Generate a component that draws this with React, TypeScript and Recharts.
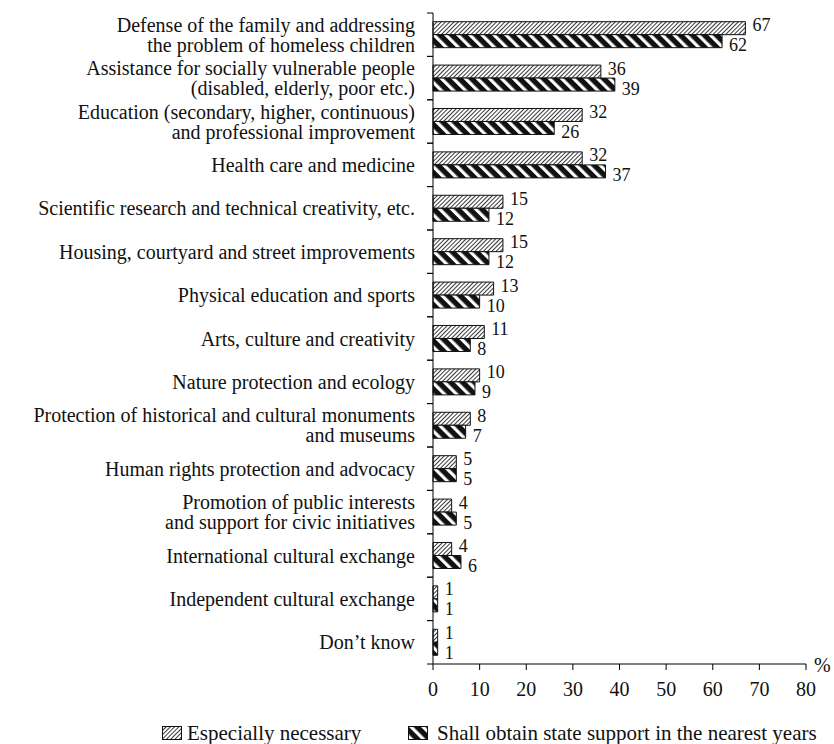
import React from 'react';
import { BarChart, Bar, XAxis, YAxis, LabelList, Label } from 'recharts';

const categories: string[] = [
  'Defense of the family and addressing\nthe problem of homeless children',
  'Assistance for socially vulnerable people\n(disabled, elderly, poor etc.)',
  'Education (secondary, higher, continuous)\nand professional improvement',
  'Health care and medicine',
  'Scientific research and technical creativity, etc.',
  'Housing, courtyard and street improvements',
  'Physical education and sports',
  'Arts, culture and creativity',
  'Nature protection and ecology',
  'Protection of historical and cultural monuments\nand museums',
  'Human rights protection and advocacy',
  'Promotion of public interests\nand support for civic initiatives',
  'International cultural exchange',
  'Independent cultural exchange',
  'Don\u2019t know',
];

const especiallyNecessary: number[] = [67, 36, 32, 32, 15, 15, 13, 11, 10, 8, 5, 4, 4, 1, 1];
const stateSupport: number[] = [62, 39, 26, 37, 12, 12, 10, 8, 9, 7, 5, 5, 6, 1, 1];
const xTicks: number[] = [0, 10, 20, 30, 40, 50, 60, 70, 80];
const legendLabels: string[] = ['Especially necessary', 'Shall obtain state support in the nearest years'];

const data = categories.map((c, i) => ({
  name: c,
  a: especiallyNecessary[i],
  b: stateSupport[i],
}));

const W = 834;
const H = 744;
const MARGIN = { top: 13, right: 28, bottom: 50, left: 0 };
const X_AXIS_H = 30;
const Y_AXIS_W = 433;
const PLOT_H = H - MARGIN.top - MARGIN.bottom - X_AXIS_H;
const BAND = PLOT_H / categories.length;
const FONT = '"Liberation Serif", "Times New Roman", serif';

const YTick = (props: any) => {
  const { x, y, payload } = props;
  const lines = String(payload.value).split('\n');
  const lh = 20;
  const start = y - ((lines.length - 1) * lh) / 2;
  const axisX = x + 18;
  return (
    <g>
      <line x1={axisX - 6} x2={axisX} y1={y - BAND / 2} y2={y - BAND / 2} stroke="#000" strokeWidth={1} />
      <line x1={axisX - 6} x2={axisX} y1={y + BAND / 2} y2={y + BAND / 2} stroke="#000" strokeWidth={1} />
      <text x={x} y={start} textAnchor="end" fontFamily={FONT} fontSize={20} fill="#111">
        {lines.map((l, i) => (
          <tspan key={i} x={x} y={start + i * lh} dominantBaseline="central">
            {l}
          </tspan>
        ))}
      </text>
    </g>
  );
};

const makeValueLabel = (dy: number) => (props: any) => {
  const { x, y, width, height, value } = props;
  return (
    <text
      x={x + width + 7}
      y={y + height / 2 + dy}
      dominantBaseline="central"
      fontFamily={FONT}
      fontSize={18}
      fill="#111"
    >
      {value}
    </text>
  );
};

const PercentLabel = (props: any) => {
  const { viewBox } = props;
  return (
    <text x={viewBox.x + viewBox.width + 8} y={viewBox.y + 1} fontFamily={FONT} fontSize={20} fill="#111" dominantBaseline="central">
      %
    </text>
  );
};

export default function App() {
  return (
    <div style={{ position: 'absolute', left: 0, top: 0, width: W, height: H, background: '#fff' }}>
      <BarChart
        width={W}
        height={H}
        data={data}
        layout="vertical"
        margin={MARGIN}
        barCategoryGap="20%"
        barGap={0}
      >
        <defs>
          <pattern id="hatchLight" patternUnits="userSpaceOnUse" width="3" height="3" patternTransform="rotate(45)">
            <rect width="3" height="3" fill="#fff" />
            <line x1="0.5" y1="0" x2="0.5" y2="3" stroke="#222" strokeWidth="0.9" />
          </pattern>
          <pattern id="hatchDark" patternUnits="userSpaceOnUse" width="8.5" height="8.5" patternTransform="rotate(-45)">
            <rect width="8.5" height="8.5" fill="#111" />
            <rect x="0" y="0" width="3.2" height="8.5" fill="#fff" />
          </pattern>
        </defs>
        <XAxis
          type="number"
          domain={[0, 80]}
          ticks={xTicks}
          interval={0}
          height={X_AXIS_H}
          tickSize={6}
          tickMargin={12}
          axisLine={{ stroke: '#000', strokeWidth: 1 }}
          tickLine={{ stroke: '#000', strokeWidth: 1 }}
          tick={{ fontFamily: FONT, fontSize: 20, fill: '#111' }}
        >
          <Label content={<PercentLabel />} />
        </XAxis>
        <YAxis
          type="category"
          dataKey="name"
          width={Y_AXIS_W}
          interval={0}
          tickSize={6}
          tickMargin={12}
          tickLine={false}
          axisLine={{ stroke: '#000', strokeWidth: 1 }}
          tick={<YTick />}
        />
        <Bar dataKey="a" fill="url(#hatchLight)" stroke="#111" strokeWidth={1} isAnimationActive={false}>
          <LabelList dataKey="a" content={makeValueLabel(-3)} />
        </Bar>
        <Bar dataKey="b" fill="url(#hatchDark)" stroke="#111" strokeWidth={1} isAnimationActive={false}>
          <LabelList dataKey="b" content={makeValueLabel(4)} />
        </Bar>
      </BarChart>
      <div
        style={{
          position: 'absolute',
          left: 0,
          top: 722,
          width: W,
          height: 22,
          fontFamily: FONT,
          fontSize: 21,
          color: '#111',
        }}
      >
        <div style={{ position: 'absolute', left: 162, top: 4, display: 'flex', alignItems: 'center' }}>
          <svg width={20} height={14} style={{ display: 'block' }}>
            <rect x={0.5} y={0.5} width={19} height={13} fill="url(#hatchLight)" stroke="#111" strokeWidth={1} />
          </svg>
        </div>
        <div style={{ position: 'absolute', left: 187, top: 0, lineHeight: '22px', whiteSpace: 'nowrap' }}>{legendLabels[0]}</div>
        <div style={{ position: 'absolute', left: 408, top: 4, display: 'flex', alignItems: 'center' }}>
          <svg width={20} height={14} style={{ display: 'block' }}>
            <rect x={0.5} y={0.5} width={19} height={13} fill="url(#hatchDark)" stroke="#111" strokeWidth={1} />
          </svg>
        </div>
        <div style={{ position: 'absolute', left: 437, top: 0, lineHeight: '22px', whiteSpace: 'nowrap' }}>{legendLabels[1]}</div>
      </div>
    </div>
  );
}
